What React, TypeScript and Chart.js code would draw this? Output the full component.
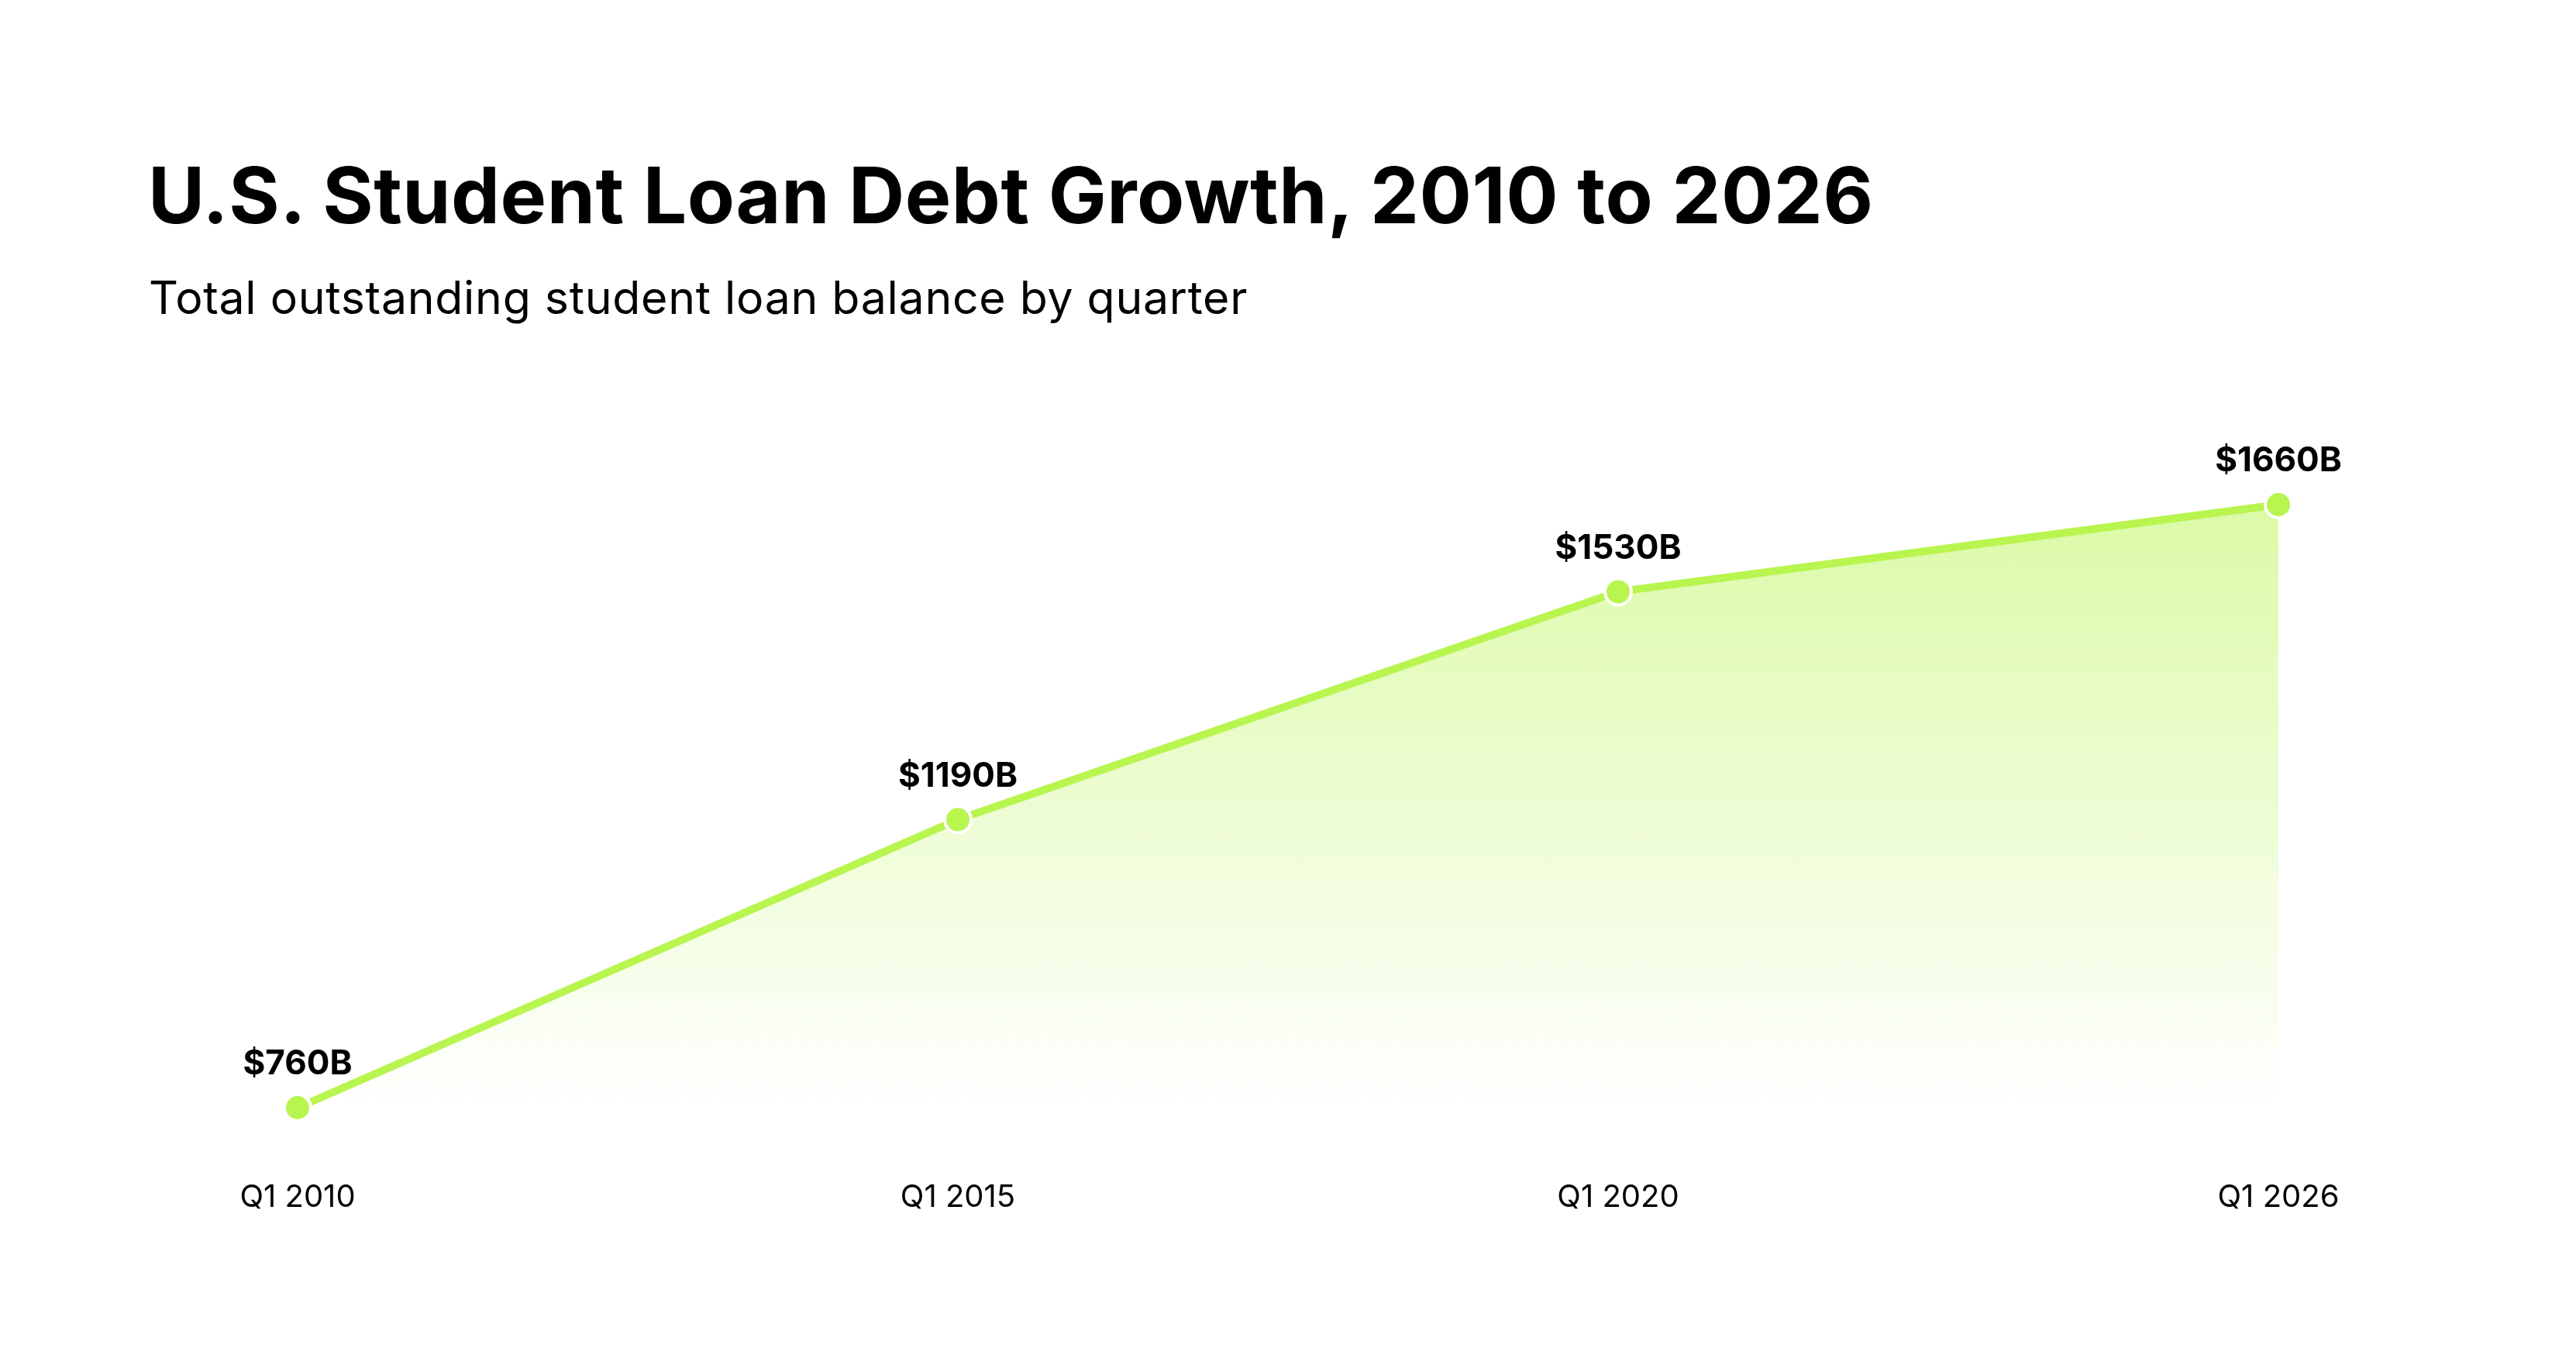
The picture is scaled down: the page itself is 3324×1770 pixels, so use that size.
import { useEffect, useRef } from "react";
import { Chart, registerables } from "chart.js";

Chart.register(...registerables);

const quarters = ["Q1 2010", "Q1 2015", "Q1 2020", "Q1 2026"];
const balances = [760, 1190, 1530, 1660];

const lime = "#b8f54f";
const font = "Inter, 'DejaVu Sans', sans-serif";

// draws "$760B" style labels above each point
const valueLabels = {
  id: "valueLabels",
  afterDatasetsDraw(chart: any) {
    const ctx = chart.ctx;
    const meta = chart.getDatasetMeta(0);
    ctx.save();
    ctx.font = `700 44px ${font}`;
    ctx.fillStyle = "#000";
    ctx.textAlign = "center";
    ctx.textBaseline = "middle";
    meta.data.forEach((pt: any, i: number) => {
      ctx.fillText(`$${balances[i]}B`, pt.x, pt.y - 56);
    });
    ctx.restore();
  },
};

export default function App() {
  const canvasRef = useRef<HTMLCanvasElement | null>(null);

  useEffect(() => {
    if (canvasRef.current == null) return;

    const chartInstance = new Chart(canvasRef.current, {
      type: "line",
      data: {
        labels: quarters,
        datasets: [
          {
            data: balances,
            borderColor: lime,
            borderWidth: 10,
            tension: 0,
            fill: "start",
            backgroundColor: (c: any) => {
              const area = c.chart.chartArea;
              if (!area) return "rgba(184,245,79,0.3)";
              const g = c.chart.ctx.createLinearGradient(0, area.top, 0, area.bottom);
              g.addColorStop(0, "rgba(184,245,79,0.5)");
              g.addColorStop(1, "rgba(184,245,79,0)");
              return g;
            },
            pointRadius: 17,
            pointBorderWidth: 4,
            pointBackgroundColor: lime,
            pointBorderColor: "#ffffff",
            pointHoverRadius: 17,
            clip: false as any,
          },
        ],
      },
      options: {
        animation: false,
        responsive: true,
        maintainAspectRatio: false,
        layout: {
          padding: { left: 384, right: 384, top: 151, bottom: 40 },
        },
        plugins: {
          legend: { display: false },
          tooltip: { enabled: false },
        },
        scales: {
          x: {
            offset: false,
            grid: { display: false, drawTicks: false },
            border: { display: false },
            ticks: {
              padding: 92,
              color: "#000",
              font: { family: font, size: 40, weight: 400 },
              maxRotation: 0,
            },
          },
          y: {
            display: false,
            min: Math.min(...balances),
            max: Math.max(...balances),
          },
        },
      },
      plugins: [valueLabels],
    });

    return () => {
      chartInstance.destroy();
    };
  }, []);

  return (
    <div
      style={{
        position: "absolute",
        left: 0,
        top: 0,
        width: 3324,
        height: 1770,
        background: "#fff",
        overflow: "hidden",
        fontFamily: font,
        color: "#000",
      }}
    >
      <div
        style={{
          position: "absolute",
          left: 191,
          top: 202,
          fontSize: 100,
          lineHeight: "100px",
          fontWeight: 700,
          letterSpacing: "0.5px",
          whiteSpace: "nowrap",
        }}
      >
        U.S. Student Loan Debt Growth, 2010 to 2026
      </div>
      <div
        style={{
          position: "absolute",
          left: 192,
          top: 354,
          fontSize: 59,
          lineHeight: "59px",
          fontWeight: 400,
          letterSpacing: "0.7px",
          whiteSpace: "nowrap",
        }}
      >
        Total outstanding student loan balance by quarter
      </div>
      <div
        style={{
          position: "absolute",
          left: 0,
          top: 500,
          width: 3324,
          height: 1201,
        }}
      >
        <canvas ref={canvasRef}></canvas>
      </div>
    </div>
  );
}
